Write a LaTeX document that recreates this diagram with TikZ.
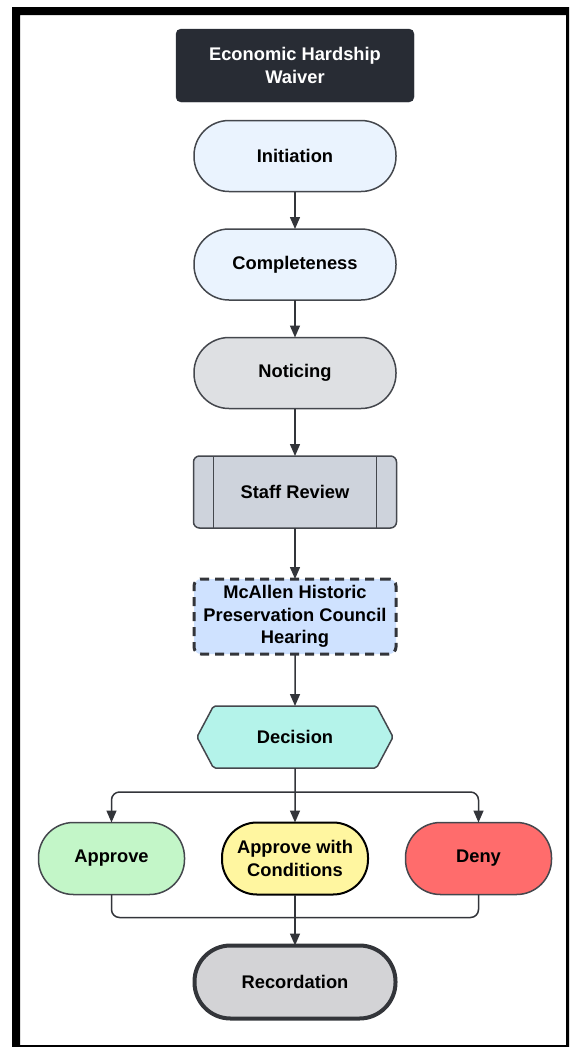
\documentclass[tikz,border=0pt]{standalone}
\usepackage{fontspec}
\setmainfont{Liberation Sans}
\usepackage{tikz}
\usetikzlibrary{arrows.meta,positioning,shapes.symbols,calc}
\definecolor{ink}{RGB}{51,53,58}
\definecolor{edge}{RGB}{68,71,77}
\definecolor{titlebg}{RGB}{40,44,52}
\definecolor{paleblue}{RGB}{234,243,254}
\definecolor{palegray}{RGB}{222,224,227}
\definecolor{staffgray}{RGB}{206,211,220}
\definecolor{hearblue}{RGB}{207,226,255}
\definecolor{teal}{RGB}{180,243,234}
\definecolor{okgreen}{RGB}{195,246,200}
\definecolor{condyellow}{RGB}{255,246,160}
\definecolor{denyred}{RGB}{255,108,108}
\definecolor{recgray}{RGB}{211,211,214}
\tikzset{
  txt/.style={font=\bfseries\fontsize{18.3}{22.5}\selectfont, align=center,
              inner sep=2pt, outer sep=0pt},
  titlebox/.style={txt, rectangle, rounded corners=5pt, fill=titlebg, draw=titlebg,
                   text=white, minimum width=238pt, minimum height=73pt},
  stadium/.style={txt, rectangle, rounded corners=35pt, draw=edge, line width=1.5pt,
                  minimum width=202pt, minimum height=71pt},
  outcome/.style={stadium, minimum width=146pt, minimum height=72pt},
  procbox/.style={txt, rectangle, rounded corners=6pt, draw=edge, line width=1.5pt,
                  minimum width=203pt, minimum height=72pt},
  hearbox/.style={txt, rectangle, rounded corners=7pt, draw=ink, line width=3pt,
                  dash pattern=on 9pt off 6pt, fill=hearblue,
                  minimum width=202pt, minimum height=75pt},
  hexbox/.style={txt, signal, signal to=east and west, signal pointer angle=124,
                 rounded corners=2pt, draw=edge, line width=1.5pt, fill=teal,
                 minimum width=196pt, minimum height=62pt},
  link/.style={draw=ink, line width=1.5pt},
  arr/.style={link, -{Triangle[length=12pt,width=10pt]}},
}
\begin{document}
\begin{tikzpicture}[x=1pt, y=-1pt, node distance=37.5pt]
  \useasboundingbox (0,0) rectangle (570,1047);
  \fill[black, even odd rule] (12,7) rectangle (569,1047) (20,15) rectangle (566,1045);
  \node[titlebox] (title) at (295,65.5) {Economic Hardship\\Waiver};
  \node[stadium, fill=paleblue, below=18.5pt of title] (init) {Initiation};
  \node[stadium, fill=paleblue, below=of init] (compl) {Completeness};
  \node[stadium, fill=palegray, below=of compl] (notice) {Noticing};
  \node[procbox, fill=staffgray, below=47.5pt of notice] (staff) {Staff Review};
  \draw[edge, line width=1.5pt] ([xshift=20pt]staff.north west) -- ([xshift=20pt]staff.south west);
  \draw[edge, line width=1.5pt] ([xshift=-20pt]staff.north east) -- ([xshift=-20pt]staff.south east);
  \node[hearbox, below=51pt of staff] (hearing) {McAllen Historic\\Preservation Council\\Hearing};
  \node[hexbox, below=52pt of hearing] (decision) {Decision};
  \node[outcome, fill=condyellow, draw=black, line width=2pt, below=54.5pt of decision] (cond) {Approve with\\Conditions};
  \node[outcome, fill=okgreen, left=of cond] (approve) {Approve};
  \node[outcome, fill=denyred, right=of cond] (deny) {Deny};
  \node[stadium, fill=recgray, draw=ink, line width=4pt, minimum width=201pt,
        minimum height=73pt, rounded corners=36pt, below=51pt of cond] (record) {Recordation};
  \coordinate (split) at ($(decision.south)+(0,24)$);
  \coordinate (merge) at ($(cond.south)+(0,23)$);
  \draw[arr] (init) -- (compl);
  \draw[arr] (compl) -- (notice);
  \draw[arr] (notice) -- (staff);
  \draw[arr] (staff) -- (hearing);
  \draw[arr] (hearing) -- (decision);
  \draw[arr] (decision) -- (cond);
  \draw[arr, rounded corners=8pt] (split) -| (approve);
  \draw[arr, rounded corners=8pt] (split) -| (deny);
  \draw[link, rounded corners=8pt] (approve) |- (merge);
  \draw[link, rounded corners=8pt] (deny) |- (merge);
  \draw[link] (cond) -- (merge);
  \draw[arr] (merge) -- (record);
\end{tikzpicture}
\end{document}
